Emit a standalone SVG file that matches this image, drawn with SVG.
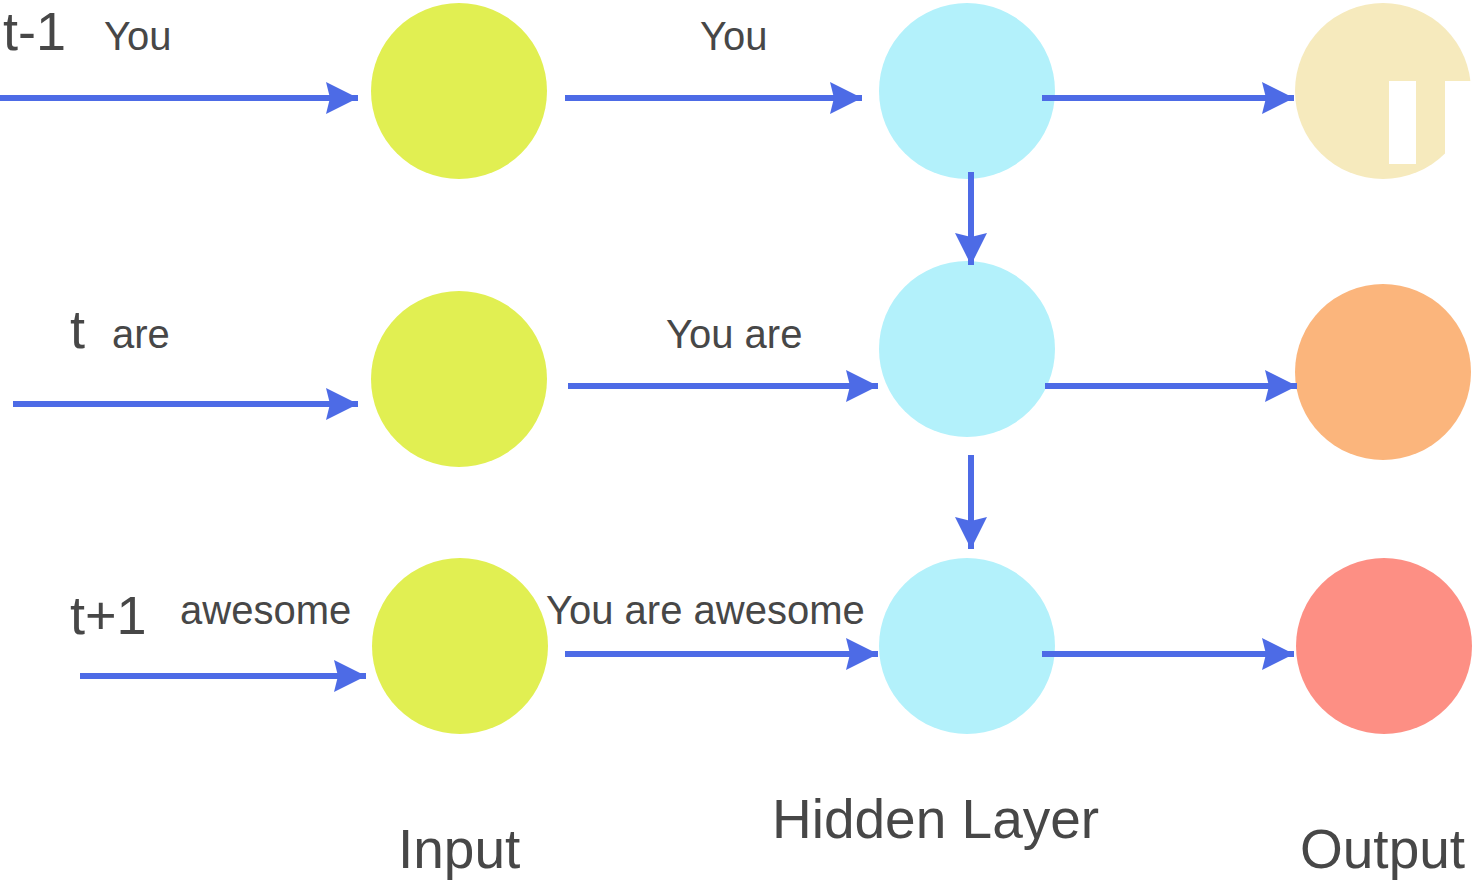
<svg xmlns="http://www.w3.org/2000/svg" width="1481" height="881" viewBox="0 0 1481 881">
<style>
.t{font-family:"Liberation Sans",Arial,sans-serif;fill:#474747}
.big{font-size:54px}
.w{font-size:40px}
.lab{font-size:55px}
.c{stroke:#4d6be6;stroke-width:6;fill:none}
</style>
<defs>
<marker id="ah" markerUnits="userSpaceOnUse" markerWidth="34" markerHeight="36" refX="32" refY="18" orient="auto">
<path d="M0,2 L32,18 L0,34 L4,18 Z" fill="#4d6be6"/>
</marker>
</defs>
<rect width="1481" height="881" fill="#fff"/>
<g id="in1"><circle cx="459" cy="91" r="88" fill="#e1ef52"/></g>
<g id="in2"><circle cx="459" cy="379" r="88" fill="#e1ef52"/></g>
<g id="in3"><circle cx="460" cy="646" r="88" fill="#e1ef52"/></g>
<g id="h1"><circle cx="967" cy="91" r="88" fill="#b3f1fb"/></g>
<g id="h2"><circle cx="967" cy="349" r="88" fill="#b3f1fb"/></g>
<g id="h3"><circle cx="967" cy="646" r="88" fill="#b3f1fb"/></g>
<g id="o1"><circle cx="1383" cy="91" r="88" fill="#f6eabd"/>
<rect x="1389" y="81" width="27" height="83" fill="#fff"/>
<rect x="1445" y="81" width="27" height="74" fill="#fff"/></g>
<g id="o2"><circle cx="1383" cy="372" r="88" fill="#fbb57c"/></g>
<g id="o3"><circle cx="1384" cy="646" r="88" fill="#fd8f84"/></g>
<g id="connectors">
<line class="c" x1="0" y1="98" x2="358" y2="98" marker-end="url(#ah)"/>
<line class="c" x1="565" y1="98" x2="862" y2="98" marker-end="url(#ah)"/>
<line class="c" x1="1042" y1="98" x2="1294" y2="98" marker-end="url(#ah)"/>
<line class="c" x1="13" y1="404" x2="358" y2="404" marker-end="url(#ah)"/>
<line class="c" x1="568" y1="386" x2="878" y2="386" marker-end="url(#ah)"/>
<line class="c" x1="1045" y1="386" x2="1297" y2="386" marker-end="url(#ah)"/>
<line class="c" x1="80" y1="676" x2="366" y2="676" marker-end="url(#ah)"/>
<line class="c" x1="565" y1="654" x2="878" y2="654" marker-end="url(#ah)"/>
<line class="c" x1="1042" y1="654" x2="1294" y2="654" marker-end="url(#ah)"/>
<line class="c" x1="971" y1="172" x2="971" y2="265" marker-end="url(#ah)"/>
<line class="c" x1="971" y1="455" x2="971" y2="549" marker-end="url(#ah)"/>
</g>
<g id="labels">
<text class="t big" x="3" y="50">t-1</text>
<text class="t w" x="104" y="50">You</text>
<text class="t w" x="700" y="50">You</text>
<text class="t big" x="70" y="348">t</text>
<text class="t w" x="112" y="348">are</text>
<text class="t w" x="666" y="348">You are</text>
<text class="t big" x="70" y="634">t+1</text>
<text class="t w" x="180" y="624">awesome</text>
<text class="t w" x="546" y="624">You are awesome</text>
<text class="t lab" x="772" y="838">Hidden Layer</text>
<text class="t lab" x="398" y="868">Input</text>
<text class="t lab" x="1300" y="868">Output</text>
</g>
</svg>
